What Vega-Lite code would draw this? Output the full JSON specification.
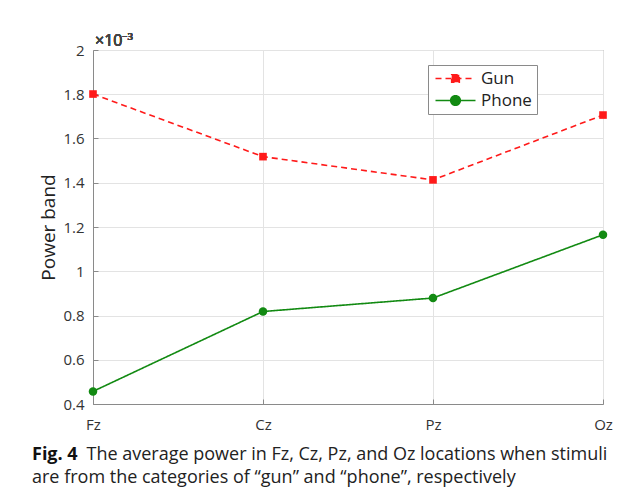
{
  "$schema": "https://vega.github.io/schema/vega-lite/v6.json",
  "autosize": "none",
  "width": 510,
  "height": 354,
  "padding": {"left": 93, "top": 50, "right": 33, "bottom": 98},
  "background": "white",
  "config": {
    "font": "Open Sans",
    "view": {"stroke": "#8a8a8a", "strokeWidth": 1},
    "axis": {"labelFont": "Open Sans", "titleFont": "Open Sans"}
  },
  "title": {
    "text": "Fig. 4",
    "subtitle": "are from the categories of \u201cgun\u201d and \u201cphone\u201d, respectively",
    "orient": "bottom",
    "anchor": "start",
    "frame": "group",
    "font": "Open Sans",
    "fontSize": 18,
    "fontWeight": "bold",
    "color": "#111",
    "subtitleFont": "Open Sans",
    "subtitleFontSize": 18,
    "subtitleColor": "#222",
    "subtitlePadding": 5,
    "dx": -61,
    "dy": -21
  },
  "data": {
    "values": [
      {"loc": "Fz", "series": "Gun", "power": 1.801},
      {"loc": "Cz", "series": "Gun", "power": 1.518},
      {"loc": "Pz", "series": "Gun", "power": 1.413},
      {"loc": "Oz", "series": "Gun", "power": 1.706},
      {"loc": "Fz", "series": "Phone", "power": 0.457},
      {"loc": "Cz", "series": "Phone", "power": 0.818},
      {"loc": "Pz", "series": "Phone", "power": 0.879},
      {"loc": "Oz", "series": "Phone", "power": 1.165}
    ]
  },
  "encoding": {
    "x": {
      "field": "loc", "type": "nominal", "sort": ["Fz", "Cz", "Pz", "Oz"],
      "scale": {"type": "point", "padding": 0},
      "axis": {
        "labelAngle": 0, "labelFontSize": 15, "labelColor": "#333", "labelPadding": 18,
        "domainColor": "#8a8a8a", "tickColor": "#8a8a8a", "tickSize": -5,
        "grid": true, "gridColor": "#e3e3e3",
        "title": "The average power in Fz, Cz, Pz, and Oz locations when stimuli",
        "titleFontSize": 18, "titleFontWeight": "normal", "titleColor": "#222",
        "titleAnchor": "start", "titleAlign": "left", "titleBaseline": "alphabetic",
        "titleX": -7, "titleY": 55
      }
    },
    "y": {
      "field": "power", "type": "quantitative",
      "scale": {"domain": [0.4, 2], "nice": false, "zero": false},
      "axis": {
        "values": [0.4, 0.6, 0.8, 1, 1.2, 1.4, 1.6, 1.8, 2],
        "format": ".2~f",
        "labelFontSize": 15, "labelColor": "#333", "labelPadding": 14,
        "domainColor": "#8a8a8a", "tickColor": "#8a8a8a", "tickSize": -5,
        "grid": true, "gridColor": "#e3e3e3",
        "title": "Power band", "titleFontSize": 19, "titleFontWeight": "normal", "titleColor": "#222",
        "titleX": -35, "titleY": 177
      }
    },
    "color": {
      "field": "series", "type": "nominal",
      "scale": {"domain": ["Gun", "Phone"], "range": ["#ff1a1a", "#128a12"]},
      "legend": {
        "title": null,
        "orient": "none",
        "legendX": 335,
        "legendY": 15,
        "padding": 5,
        "fillColor": "white",
        "strokeColor": "#8a8a8a",
        "labelFontSize": 17,
        "labelColor": "#222",
        "symbolOffset": 14,
        "labelOffset": 17,
        "rowPadding": 4,
        "symbolSize": 100,
        "symbolStrokeWidth": 1.6,
        "encode": {
          "symbols": {
            "update": {
              "shape": {"signal": "datum.value === 'Gun' ? 'M-4,0H4M-0.76,-0.76H0.76V0.76H-0.76Z' : 'M-4,0H4M0.96,0A0.96,0.96 0 1,1 -0.96,0A0.96,0.96 0 1,1 0.96,0Z'"},
              "fill": {"signal": "datum.value === 'Gun' ? '#ff1a1a' : '#128a12'"},
              "stroke": {"signal": "datum.value === 'Gun' ? '#ff1a1a' : '#128a12'"},
              "strokeDash": {"signal": "datum.value === 'Gun' ? [5, 3] : [1, 0]"},
              "size": {"value": 100},
              "opacity": {"value": 1}
            }
          }
        }
      }
    }
  },
  "layer": [
    {
      "mark": {"type": "line", "strokeWidth": 1.6},
      "encoding": {
        "strokeDash": {
          "field": "series", "type": "nominal",
          "scale": {"domain": ["Gun", "Phone"], "range": [[6, 4], [1, 0]]},
          "legend": null
        }
      }
    },
    {
      "transform": [{"filter": "datum.series === 'Gun'"}],
      "mark": {"type": "point", "filled": true, "opacity": 1, "shape": "square", "size": 58}
    },
    {
      "transform": [{"filter": "datum.series === 'Phone'"}],
      "mark": {"type": "point", "filled": true, "opacity": 1, "shape": "circle", "size": 72}
    },
    {
      "mark": {"type": "text", "align": "left", "baseline": "alphabetic", "dx": 2, "dy": -4, "fontSize": 16, "fontWeight": "normal", "color": "#444", "font": "Open Sans"},
      "encoding": {
        "x": {"datum": "Fz"},
        "y": {"datum": 2},
        "text": {"value": "\u00d710\u207b\u00b3"},
        "color": {"value": "#444"}
      }
    }
  ]
}
